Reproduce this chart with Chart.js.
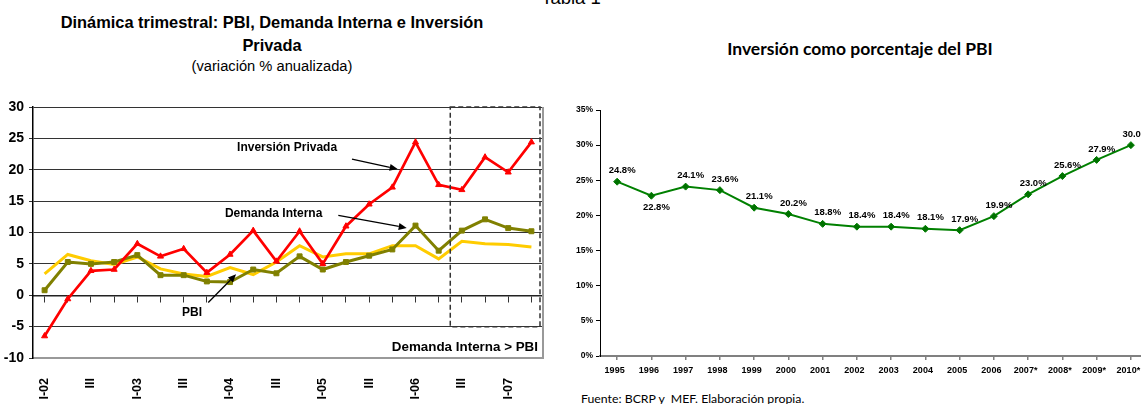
<!DOCTYPE html>
<html><head><meta charset="utf-8">
<script src="https://cdn.jsdelivr.net/npm/chart.js@4.4.0/dist/chart.umd.min.js"></script>
<style>
html,body{margin:0;padding:0;width:1141px;height:404px;overflow:hidden;background:#fff;}
.t{position:absolute;white-space:pre;color:#000;transform:translateX(-50%);}
</style></head><body>
<div class="t" style="left:571px;top:-12px;font:18.5px/20px 'Liberation Sans',Arial,sans-serif;">Tabla 1</div>
<div class="t" style="left:272px;top:13px;font:bold 16.4px/19px 'Liberation Sans',Arial,sans-serif;">Dinámica trimestral: PBI, Demanda Interna e Inversión</div>
<div class="t" style="left:272px;top:36.3px;font:bold 16.4px/19px 'Liberation Sans',Arial,sans-serif;">Privada</div>
<div class="t" style="left:272px;top:58px;font:14.7px/17px 'Liberation Sans',Arial,sans-serif;">(variación % anualizada)</div>
<div class="t" style="left:860px;top:39px;font:bold 17.5px/20px Lato,'Open Sans',sans-serif;">Inversión como porcentaje del PBI</div>
<div class="t" style="left:581px;top:391.5px;transform:none;font:12.3px/14px Lato,'Open Sans',sans-serif;">Fuente: BCRP y  MEF. Elaboración propia.</div>
<canvas id="c1" width="560" height="404" style="position:absolute;left:0;top:0"></canvas>
<canvas id="c2" width="600" height="404" style="position:absolute;left:560px;top:0"></canvas>
<script>
// ---- Left chart data ----
const quarters = ['I-02','II-02','III-02','IV-02','I-03','II-03','III-03','IV-03','I-04','II-04','III-04','IV-04','I-05','II-05','III-05','IV-05','I-06','II-06','III-06','IV-06','I-07','II-07'];
const tickLabels = ['I-02','','III','','I-03','','III','','I-04','','III','','I-05','','III','','I-06','','III','','I-07',''];
const inversion = [-6.5,-0.6,3.9,4.1,8.2,6.2,7.4,3.6,6.5,10.3,5.4,10.2,5.0,11.0,14.5,17.2,24.4,17.6,16.8,22.0,19.6,24.4];
const demanda = [0.8,5.3,5.0,5.3,6.4,3.2,3.2,2.2,2.1,4.1,3.5,6.2,4.1,5.3,6.3,7.3,11.1,7.1,10.3,12.1,10.7,10.2];
const pbi = [3.4,6.5,5.5,4.9,6.1,4.2,3.4,3.0,4.4,3.3,5.3,7.9,6.1,6.6,6.6,7.9,7.9,5.8,8.6,8.2,8.1,7.7];
const leftTicks = [-10,-5,0,5,10,15,20,25,30];

// ---- Right chart data ----
const years = ['1995','1996','1997','1998','1999','2000','2001','2002','2003','2004','2005','2006','2007*','2008*','2009*','2010*'];
const invPct = [24.8,22.8,24.1,23.6,21.1,20.2,18.8,18.4,18.4,18.1,17.9,19.9,23.0,25.6,27.9,30.0];

const ARIAL = "'Liberation Sans', Arial, sans-serif";

function arrow(ctx, x1, y1, x2, y2) {
  ctx.save();
  ctx.strokeStyle = '#000'; ctx.fillStyle = '#000'; ctx.lineWidth = 1.3;
  const a = Math.atan2(y2 - y1, x2 - x1), L = 8, W = 3.5;
  const bx = x2 - L * Math.cos(a), by = y2 - L * Math.sin(a);
  ctx.beginPath(); ctx.moveTo(x1, y1); ctx.lineTo(bx, by); ctx.stroke();
  ctx.beginPath(); ctx.moveTo(x2, y2);
  ctx.lineTo(bx + W * Math.sin(a), by - W * Math.cos(a));
  ctx.lineTo(bx - W * Math.sin(a), by + W * Math.cos(a));
  ctx.closePath(); ctx.fill();
  ctx.restore();
}

const leftDecor = {
  id: 'leftDecor',
  afterDatasetsDraw(chart) {
    const {ctx, chartArea: ca, scales: {x, y}} = chart;
    const px = i => x.getPixelForValue(i), py = v => y.getPixelForValue(v);
    ctx.save();
    ctx.strokeStyle = '#999'; ctx.lineWidth = 2;
    ctx.beginPath(); ctx.moveTo(ca.right, ca.top); ctx.lineTo(ca.right, ca.bottom); ctx.stroke();
    ctx.strokeStyle = '#333'; ctx.lineWidth = 1.5; ctx.setLineDash([5, 3]);
    const bx1 = px(17.5), bx2 = ca.right - 3, by1 = py(30), by2 = py(-5);
    ctx.strokeRect(bx1, by1, bx2 - bx1, by2 - by1);
    ctx.setLineDash([]);
    ctx.fillStyle = '#000'; ctx.font = 'bold 12px ' + ARIAL; ctx.textBaseline = 'middle';
    ctx.textAlign = 'center';
    ctx.fillText('Inversión Privada', px(10.46), py(23.45));
    ctx.fillText('Demanda Interna', px(9.88), py(13.0));
    ctx.fillText('PBI', px(6.36), py(-2.7));
    ctx.textAlign = 'right';
    ctx.font = 'bold 13.4px ' + ARIAL;
    ctx.fillText('Demanda Interna > PBI', ca.right - 5, py(-8.25));
    ctx.restore();
    arrow(ctx, px(13.26), py(21.7), px(15.23), py(20.1));
    arrow(ctx, px(12.67), py(12.73), px(15.62), py(10.73));
    arrow(ctx, px(7.06), py(-1.16), px(8.26), py(3.33));
  }
};

new Chart(document.getElementById('c1'), {
  type: 'line',
  data: {
    labels: quarters,
    datasets: [
      {label: 'PBI', data: pbi, borderColor: '#FFCC00', borderWidth: 3, pointRadius: 0, order: 3},
      {label: 'Demanda Interna', data: demanda, borderColor: '#808000', backgroundColor: '#808000', borderWidth: 3, pointStyle: 'rect', pointRadius: 3.5, pointBorderWidth: 1, order: 2},
      {label: 'Inversión Privada', data: inversion, borderColor: '#FF0000', backgroundColor: '#FF0000', borderWidth: 2.7, pointStyle: 'triangle', pointRadius: 3.5, pointBorderWidth: 1, order: 1}
    ]
  },
  options: {
    responsive: false, animation: false,
    layout: {padding: {top: 107, right: 17, left: 0, bottom: 0}},
    plugins: {legend: {display: false}, tooltip: {enabled: false}},
    scales: {
      x: {
        type: 'category', offset: true,
        grid: {display: false},
        border: {display: true, color: '#999', width: 2},
        ticks: {autoSkip: false, maxRotation: 90, minRotation: 90, padding: 12, color: '#000',
          font: {family: ARIAL, weight: 'bold', size: 12.5},
          callback: (v, i) => tickLabels[i]},
        afterFit: s => { s.height = 404 - 358; }
      },
      x0: {
        type: 'category', position: {y: 0}, offset: true,
        grid: {drawOnChartArea: false, drawTicks: true, tickLength: 6, color: '#333', lineWidth: 1},
        border: {display: true, color: '#222', width: 1.5},
        ticks: {display: false}
      },
      y: {
        min: -10, max: 30,
        afterBuildTicks: s => { s.ticks = leftTicks.map(v => ({value: v})); },
        ticks: {color: '#000', padding: 5, font: {family: ARIAL, weight: 'bold', size: 14}},
        grid: {color: '#333', lineWidth: 1, tickLength: 4},
        border: {color: '#000', width: 1.5},
        afterFit: s => { s.width = 33; }
      }
    }
  },
  plugins: [leftDecor]
});

const rightLabels = {
  id: 'rightLabels',
  afterDatasetsDraw(chart) {
    const {ctx} = chart;
    const meta = chart.getDatasetMeta(0);
    ctx.save();
    ctx.fillStyle = '#000'; ctx.font = 'bold 9.5px ' + ARIAL;
    ctx.textAlign = 'center'; ctx.textBaseline = 'middle';
    meta.data.forEach((pt, i) => {
      const below = i === 1;
      ctx.fillText(invPct[i].toFixed(1) + '%', pt.x + 5, pt.y + (below ? 12 : -11));
    });
    ctx.restore();
  }
};

new Chart(document.getElementById('c2'), {
  type: 'line',
  data: {
    labels: years,
    datasets: [{data: invPct, borderColor: '#008000', backgroundColor: '#007000', borderWidth: 2,
      pointStyle: 'rectRot', pointRadius: 3.5, pointBorderWidth: 1}]
  },
  options: {
    responsive: false, animation: false,
    layout: {padding: {top: 110, right: 12, left: 0, bottom: 0}},
    plugins: {legend: {display: false}, tooltip: {enabled: false}},
    scales: {
      x: {
        offset: true,
        grid: {display: true, drawOnChartArea: false, drawTicks: true, tickLength: 4, color: '#808080', lineWidth: 1.5},
        border: {display: true, color: '#808080', width: 2},
        ticks: {padding: 5, maxRotation: 0, autoSkip: false, labelOffset: -2.5, color: '#000', font: {family: ARIAL, weight: 'bold', size: 9}},
        afterFit: s => { s.height = 404 - 356; }
      },
      y: {
        min: 0, max: 35,
        ticks: {stepSize: 5, padding: 3, color: '#000', callback: v => v + '%', font: {family: ARIAL, weight: 'bold', size: 8.5}},
        grid: {display: true, drawOnChartArea: false, drawTicks: true, tickLength: 4, color: '#000'},
        border: {display: true, color: '#000', width: 1},
        afterFit: s => { s.width = 40; }
      }
    }
  },
  plugins: [rightLabels]
});
</script>
</body></html>
